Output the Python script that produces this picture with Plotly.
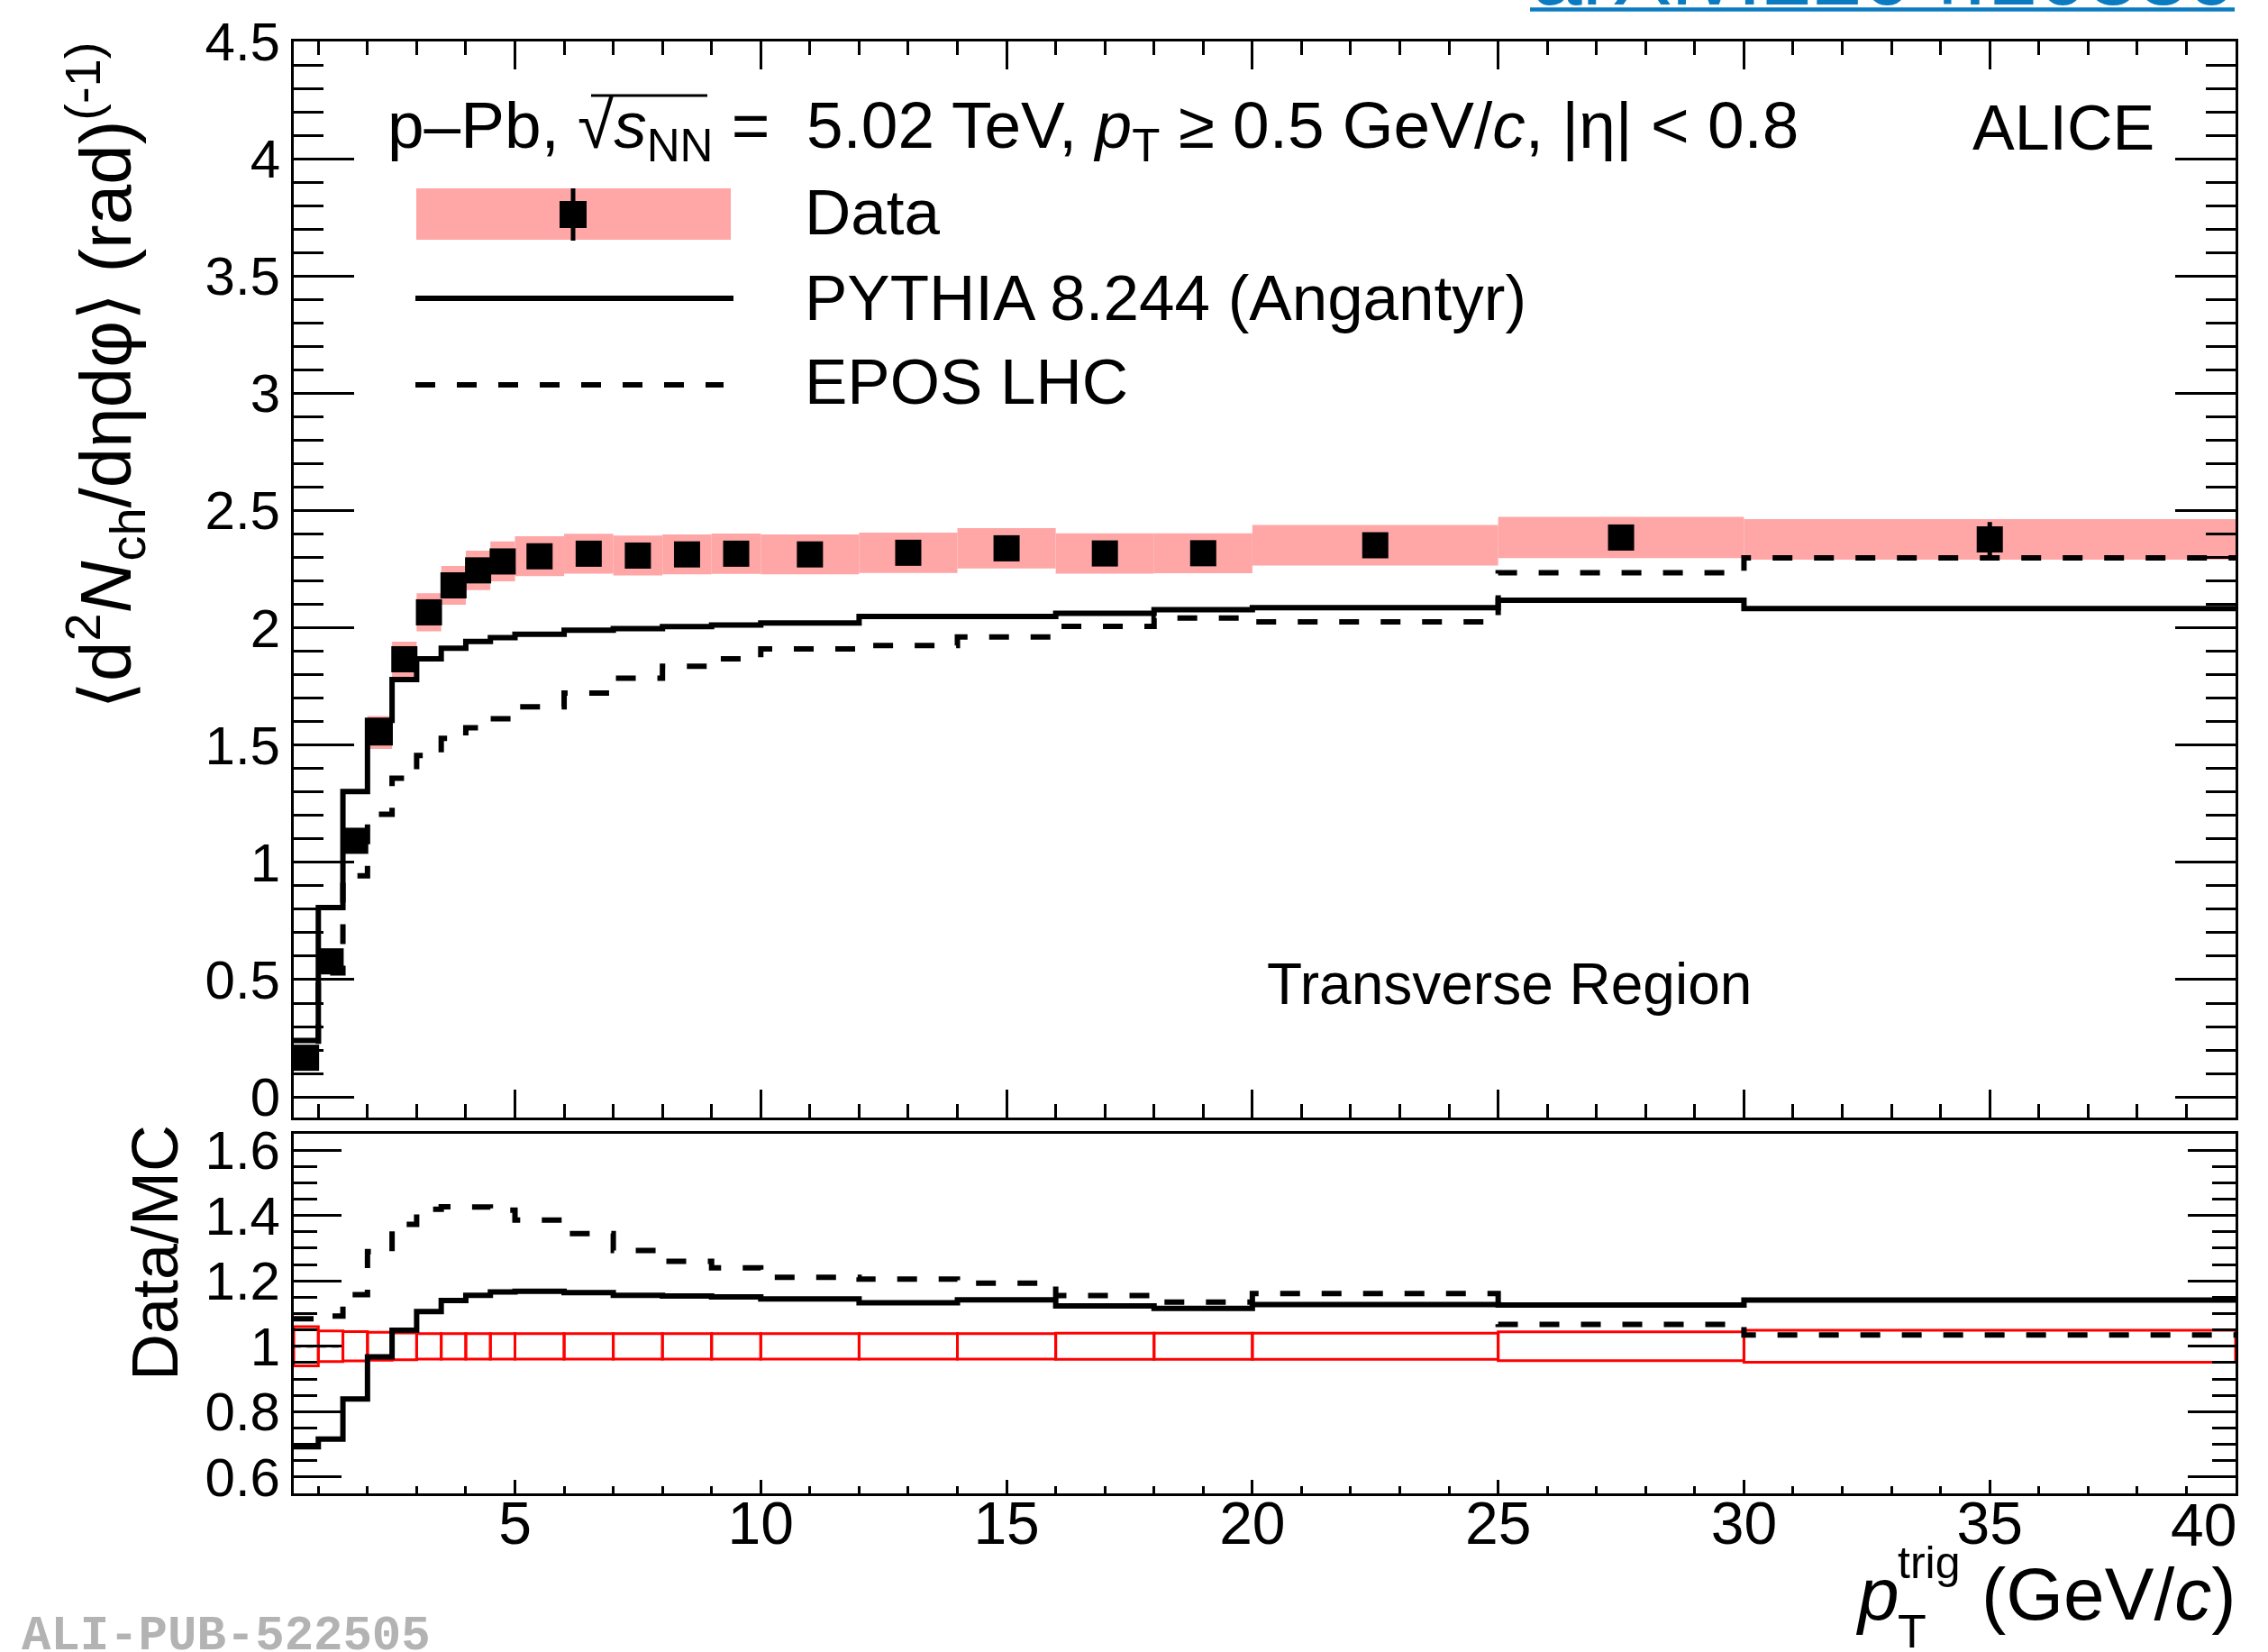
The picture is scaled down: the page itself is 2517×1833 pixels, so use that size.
import plotly.graph_objects as go

# pT^trig bin edges (GeV/c)
edges = [0.5, 1.0, 1.5, 2.0, 2.5, 3.0, 3.5, 4.0, 4.5, 5.0, 6.0, 7.0, 8.0, 9.0,
         10.0, 12.0, 14.0, 16.0, 18.0, 20.0, 25.0, 30.0, 40.0]

# measured <d2N/deta dphi> in the transverse region
data_val = [0.167, 0.578, 1.092, 1.554, 1.866, 2.066, 2.181, 2.245, 2.283, 2.305, 2.316,
            2.308, 2.313, 2.316, 2.313, 2.320, 2.339, 2.317, 2.318, 2.352, 2.385, 2.377]
data_stat = [0.006, 0.008, 0.010, 0.010, 0.010, 0.010, 0.010, 0.010, 0.010, 0.010, 0.012,
             0.012, 0.013, 0.014, 0.012, 0.015, 0.018, 0.022, 0.025, 0.025, 0.040, 0.074]
data_syst = [0.012, 0.028, 0.048, 0.070, 0.075, 0.081, 0.083, 0.084, 0.085, 0.085, 0.085,
             0.085, 0.085, 0.086, 0.085, 0.086, 0.086, 0.086, 0.085, 0.086, 0.088, 0.086]

# model predictions
pythia = [0.241, 0.807, 1.302, 1.606, 1.779, 1.868, 1.913, 1.942, 1.958, 1.973, 1.990,
          1.997, 2.005, 2.012, 2.021, 2.048, 2.048, 2.062, 2.077, 2.086, 2.118, 2.082]
epos = [0.154, 0.529, 0.943, 1.205, 1.359, 1.456, 1.529, 1.574, 1.612, 1.663, 1.722,
        1.785, 1.836, 1.868, 1.910, 1.925, 1.961, 2.006, 2.042, 2.025, 2.235, 2.298]

# relative systematic uncertainty shown around unity in the ratio panel
ratio_syst = [0.060, 0.047, 0.045, 0.043, 0.041, 0.039, 0.039, 0.039, 0.039, 0.039, 0.039,
              0.039, 0.039, 0.039, 0.039, 0.039, 0.039, 0.040, 0.040, 0.040, 0.044, 0.049]

# short unity reference segment in the ratio panel
unity_x = [0.5, 1.5]
unity_y = [1.0, 1.0]

# x-axis major tick labels (the last one is pulled inside the frame separately)
x_tick_vals = [5, 10, 15, 20, 25, 30, 35, 40]
x_tick_text = ["5", "10", "15", "20", "25", "30", "35", ""]
x_last_label = "40"

centers = [(a + b) / 2 for a, b in zip(edges[:-1], edges[1:])]
widths = [b - a for a, b in zip(edges[:-1], edges[1:])]
ratio_py = [d / m for d, m in zip(data_val, pythia)]
ratio_ep = [d / m for d, m in zip(data_val, epos)]


def step(v):
    return list(v) + [v[-1]]


W, H = 2517, 1833
L, R, T, B = 326, 36, 46, 176
PW, PH = W - L - R, H - T - B
FONT = "Liberation Sans, Arial, Helvetica, sans-serif"
PINK = "#ffa6a6"
DASH = "22px,24px"


def px(X):
    return (X - L) / PW


def py(Y):
    return (H - B - Y) / PH


fig = go.Figure()

# systematic band of the data
fig.add_trace(go.Bar(
    x=centers, y=[2 * s for s in data_syst],
    base=[v - s for v, s in zip(data_val, data_syst)], width=widths,
    marker=dict(color=PINK, line=dict(width=0)),
    xaxis="x", yaxis="y", hoverinfo="skip"))

# systematic boxes in the ratio panel
fig.add_trace(go.Bar(
    x=centers, y=[2 * r for r in ratio_syst],
    base=[1 - r for r in ratio_syst], width=widths,
    marker=dict(color="rgba(0,0,0,0)", line=dict(color="#ff0000", width=3)),
    xaxis="x2", yaxis="y2", hoverinfo="skip"))

# model histograms
fig.add_trace(go.Scatter(x=edges, y=step(pythia), mode="lines",
                         line=dict(color="black", width=6, shape="hv"),
                         xaxis="x", yaxis="y"))
fig.add_trace(go.Scatter(x=edges, y=step(epos), mode="lines",
                         line=dict(color="black", width=6, shape="hv", dash=DASH),
                         xaxis="x", yaxis="y"))

# ratios
fig.add_trace(go.Scatter(x=unity_x, y=unity_y, mode="lines",
                         line=dict(color="black", width=3, dash="8px,6px"),
                         xaxis="x2", yaxis="y2"))
fig.add_trace(go.Scatter(x=edges, y=step(ratio_py), mode="lines",
                         line=dict(color="black", width=6, shape="hv"),
                         xaxis="x2", yaxis="y2"))
fig.add_trace(go.Scatter(x=edges, y=step(ratio_ep), mode="lines",
                         line=dict(color="black", width=6, shape="hv", dash=DASH),
                         xaxis="x2", yaxis="y2"))

# data points
fig.add_trace(go.Scatter(
    x=centers, y=data_val, mode="markers",
    marker=dict(symbol="square", size=29, color="black"),
    error_y=dict(type="data", array=data_stat, thickness=5, width=0, color="black"),
    xaxis="x", yaxis="y"))

axis_common = dict(showgrid=False, zeroline=False, showline=True, linecolor="black",
                   linewidth=3, ticks="inside", tickcolor="black", tickwidth=3)

fig.update_layout(
    width=W, height=H,
    margin=dict(l=L, r=R, t=T, b=B, pad=0),
    paper_bgcolor="white", plot_bgcolor="white",
    showlegend=False, barmode="overlay",
    font=dict(family=FONT, color="black"),
    xaxis=dict(axis_common, domain=[0, 1], anchor="y", range=[0.5, 40],
               tick0=0, dtick=5, ticklen=31, showticklabels=False, mirror="allticks",
               minor=dict(dtick=1, tick0=0, ticklen=15, tickwidth=3, tickcolor="black",
                          ticks="inside", showgrid=False)),
    yaxis=dict(axis_common, domain=[py(1240), 1], anchor="x", range=[-0.088, 4.5],
               tick0=0, dtick=0.5, ticklen=67, mirror="allticks",
               tickfont=dict(size=60, family=FONT),
               minor=dict(dtick=0.1, tick0=0, ticklen=33, tickwidth=3, tickcolor="black",
                          ticks="inside", showgrid=False)),
    xaxis2=dict(axis_common, domain=[0, 1], anchor="y2", range=[0.5, 40],
                tickmode="array", tickvals=x_tick_vals, ticktext=x_tick_text,
                ticklen=15, mirror=True, ticklabelstandoff=-26,
                tickfont=dict(size=66, family=FONT),
                minor=dict(tickmode="linear", dtick=1, tick0=0, ticklen=8, tickwidth=3,
                           tickcolor="black", ticks="inside", showgrid=False)),
    yaxis2=dict(axis_common, domain=[0, py(1258)], anchor="x2", range=[0.55, 1.65],
                tick0=0, dtick=0.2, ticklen=53, mirror="allticks",
                tickfont=dict(size=60, family=FONT),
                minor=dict(dtick=0.05, tick0=0, ticklen=26, tickwidth=3, tickcolor="black",
                           ticks="inside", showgrid=False)),
)


def note(text, X, Y, size, xanchor="left", **kw):
    fig.add_annotation(text=text, x=px(X), y=py(Y), xref="paper", yref="paper",
                       xanchor=xanchor, yanchor="middle", showarrow=False,
                       font=dict(size=size, family=kw.pop("family", FONT),
                                 color=kw.pop("color", "black")), **kw)


note("p–Pb, √<i>s</i><sub>NN</sub> =  5.02 TeV, <i>p</i><sub>T</sub> ≥ 0.5 GeV/<i>c</i>, |η| &lt; 0.8",
     428, 144, 73)
note("ALICE", 2393, 142, 70, xanchor="right")
note("Data", 891, 236, 71)
note("PYTHIA 8.244 (Angantyr)", 891, 331, 71)
note("EPOS LHC", 891, 424, 71)
note("Transverse Region", 1404, 1092, 64)
note("⟨d<sup>2</sup><i>N</i><sub>ch</sub>/dηdφ⟩ (rad)<sup>(-1)</sup>", 116, 417, 80,
     xanchor="center", textangle=-90)
note("Data/MC", 172, 1390, 72, xanchor="center", textangle=-90)
note(x_last_label, 2484, 1692, 66, xanchor="right")
note("(GeV/<i>c</i>)", 2483, 1768, 82, xanchor="right")
note("<i>p</i>", 2110, 1768, 82, xanchor="right")
note("trig", 2104, 1734, 50)
note("T", 2104, 1810, 52)
note("<b>ALI-PUB-522505</b>", 22, 1815, 54, family="Liberation Mono, Courier New, monospace",
     color="#b3b3b3")
note("arXiv:2204.10389", 1698, -30, 100, color="#0b7bc1")


def seg(X0, Y0, X1, Y1, width, color="black", dash=None):
    fig.add_shape(type="line", xref="paper", yref="paper",
                  x0=px(X0), y0=py(Y0), x1=px(X1), y1=py(Y1),
                  line=dict(color=color, width=width, dash=dash))


def box(X0, Y0, X1, Y1, color):
    fig.add_shape(type="rect", xref="paper", yref="paper",
                  x0=px(X0), y0=py(Y1), x1=px(X1), y1=py(Y0),
                  fillcolor=color, line=dict(width=0))


# legend samples
box(462, 209, 811, 266, PINK)
seg(636, 209, 636, 267, 5)
box(621, 223, 651, 253, "black")
seg(461, 331, 814, 331, 6)
seg(461, 427, 803, 427, 6, dash=DASH)
# radical overline and link underline
seg(656, 106, 785, 106, 3)
seg(1698, 10.5, 2480, 10.5, 4.5, color="#0b7bc1")

fig.write_html("out.html")
